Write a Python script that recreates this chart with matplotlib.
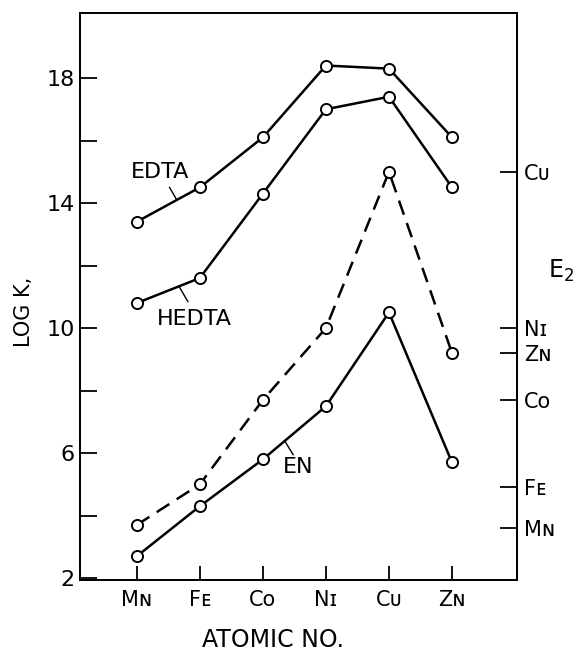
import matplotlib
matplotlib.use('Agg')
import matplotlib.pyplot as plt

# metals along the x axis (small-caps style labels)
metals = ['Mɴ', 'Fᴇ', 'Cᴏ', 'Nɪ', 'Cᴜ', 'Zɴ']
x = list(range(len(metals)))

# log K values
edta = [13.4, 14.5, 16.1, 18.4, 18.3, 16.1]
hedta = [10.8, 11.6, 14.3, 17.0, 17.4, 14.5]
en = [2.7, 4.3, 5.8, 7.5, 10.5, 5.7]
e2 = [3.7, 5.0, 7.7, 10.0, 15.0, 9.2]   # dashed curve

# right axis: E2 scale marks
e2_ticks = [15.0, 10.0, 9.2, 7.7, 4.9, 3.6]
e2_labels = ['Cᴜ', 'Nɪ', 'Zɴ', 'Cᴏ', 'Fᴇ', 'Mɴ']

plt.rcParams['font.family'] = ['DejaVu Sans']

fig = plt.figure(figsize=(5.87, 6.6), dpi=100)
ax = fig.add_axes([0.1363, 0.1212, 0.7444, 0.8591])

mk = dict(marker='o', markersize=8, markerfacecolor='white',
          markeredgecolor='black', markeredgewidth=1.4, color='black', lw=1.8)
ax.plot(x, edta, **mk)
ax.plot(x, hedta, **mk)
ax.plot(x, en, **mk)
ax.plot(x, e2, dashes=(6, 3.5), **mk)

ax.set_xlim(-0.9, 6.03)
ax.set_ylim(1.94, 20.08)

ax.set_xticks(x)
ax.set_xticklabels(metals, fontsize=15)
ax.set_yticks([2, 4, 6, 8, 10, 12, 14, 16, 18])
ax.set_yticklabels(['2', '', '6', '', '10', '', '14', '', '18'], fontsize=16)
ax.tick_params(axis='y', direction='in', length=12, width=1.3, pad=4)
ax.tick_params(axis='x', direction='in', length=10, width=1.3, pad=7)
for s in ax.spines.values():
    s.set_linewidth(1.3)

ax2 = ax.twinx()
ax2.set_ylim(ax.get_ylim())
ax2.set_yticks(e2_ticks)
ax2.set_yticklabels(e2_labels, fontsize=15)
ax2.tick_params(axis='y', direction='in', length=12, width=1.3, pad=5)
for s in ax2.spines.values():
    s.set_linewidth(1.3)

# curve labels with small leader lines
ax.text(0.37, 15.0, 'EDTA', fontsize=16, ha='center', va='center')
ax.plot([0.52, 0.635], [14.5, 14.1], color='black', lw=1.0)
ax.text(0.92, 10.3, 'HEDTA', fontsize=16, ha='center', va='center')
ax.plot([0.68, 0.81], [11.3, 10.85], color='black', lw=1.0)
ax.text(2.56, 5.55, 'EN', fontsize=16, ha='center', va='center')
ax.plot([2.35, 2.48], [6.38, 5.95], color='black', lw=1.0)

fig.text(0.041, 0.527, 'LOG K,', fontsize=15, rotation=90, ha='center', va='center')
fig.text(0.955, 0.59, 'E$_{2}$', fontsize=17, ha='center', va='center')
fig.text(0.465, 0.03, 'ATOMIC NO.', fontsize=17, ha='center', va='center')

fig.savefig('out.png', dpi=100)
